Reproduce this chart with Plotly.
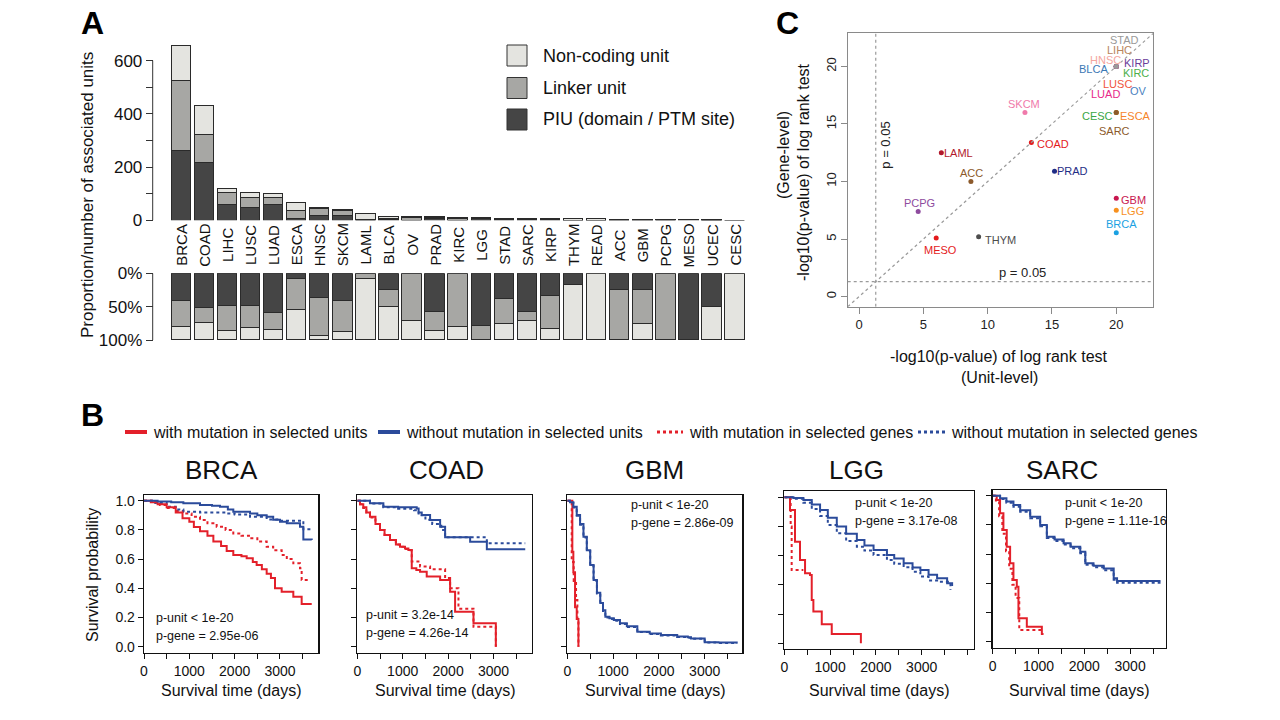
import math
import plotly.graph_objects as go

W, H = 1280, 720
def px(x): return x / W
def py(y): return 1 - y / H

FONT = "Liberation Sans, Arial, Helvetica, sans-serif"

# ---------------- Panel A data ----------------
cancers_a = ["BRCA", "COAD", "LIHC", "LUSC", "LUAD", "ESCA", "HNSC", "SKCM", "LAML", "BLCA", "OV", "PRAD",
             "KIRC", "LGG", "STAD", "SARC", "KIRP", "THYM", "READ", "ACC", "GBM", "PCPG", "MESO", "UCEC", "CESC"]
piu_units = [264, 218, 58, 49, 58, 5, 18, 17, 0, 4, 0, 8, 0, 7, 3, 4, 2, 1, 0, 1, 1, 0, 3, 1, 0]
linker_units = [261, 103, 45, 35, 26, 31, 28, 19, 2, 4, 10, 4, 8, 2, 3, 1, 3, 0, 0, 3, 2, 3, 0, 0, 0]
noncoding_units = [133, 110, 18, 19, 15, 30, 3, 5, 24, 8, 4, 2, 2, 0, 2, 2, 1, 5, 5, 0, 1, 0, 0, 1, 1]
unit_names = ["Non-coding unit", "Linker unit", "PIU (domain / PTM site)"]
count_ticks = [0, 100, 200, 300, 400, 500, 600]
count_labels = ["0", "", "200", "", "400", "", "600"]
prop_ticks = [0, 0.5, 1.0]
prop_labels = ["0%", "50%", "100%"]

# ---------------- Panel C data ----------------
cancers_c = ["LIHC", "HNSC", "KIRP", "BLCA", "KIRC", "LUSC", "OV", "LUAD", "STAD", "CESC", "ESCA", "SARC",
             "SKCM", "COAD", "LAML", "ACC", "PRAD", "PCPG", "GBM", "LGG", "BRCA", "THYM", "MESO"]
unit_level = [20, 20, 20, 20, 20, 20, 20, 20, 20, 20, 20, 20, 12.9, 13.4, 6.4, 8.7, 15.2, 4.6, 20, 20, 20, 9.3, 6.0]
gene_level = [20, 20, 20, 20, 20, 20, 20, 20, 20, 16, 16, 16, 16, 13.4, 12.5, 10, 10.9, 7.4, 8.55, 7.5, 5.55, 5.2, 5.1]
colors_c = ["#b8855c", "#f4a6a0", "#6a3d9a", "#3b78b5", "#4daf4a", "#f0553c", "#4a7fc0", "#e7298a", "#9a9a9a",
            "#3aa645", "#f5842a", "#8b5a2b", "#f07aab", "#e41a1c", "#b2182b", "#8c5a2b", "#1f2d86", "#8e4b9e",
            "#c8174f", "#f7901e", "#1ba1e2", "#4d4d4d", "#e41a1c"]
# label offsets from the dot (pixels, +x right, +y down)
label_dx = [3, -11, 21, -23, 20, 1, 22, -11, 8, -19, 19, -2, -1, 22, 17, 1, 18, 1, 17, 16, 5, 22, 4]
label_dy = [-16, -6, -3, 3, 7, 18, 25, 28, -26, 4, 4, 19, -8, 2, 0, -9, 0, -8, 2, 1, -9, 3, 12]
c_ticks = [0, 5, 10, 15, 20]
p_threshold = 0.05

# ---------------- Panel B data ----------------
surv_cancers = ["BRCA", "COAD", "GBM", "LGG", "SARC"]
p_unit_text = ["p-unit < 1e-20", "p-unit = 3.2e-14", "p-unit < 1e-20", "p-unit < 1e-20", "p-unit < 1e-20"]
p_gene_text = ["p-gene = 2.95e-06", "p-gene = 4.26e-14", "p-gene = 2.86e-09", "p-gene = 3.17e-08", "p-gene = 1.11e-16"]
surv_ticks = [0, 0.2, 0.4, 0.6, 0.8, 1.0]
surv_labels = ["0.0", "0.2", "0.4", "0.6", "0.8", "1.0"]
day_ticks = [0, 500, 1000, 1500, 2000, 2500, 3000, 3500, 4000]
day_labels = ["0", "", "1000", "", "2000", "", "3000", "", ""]

BRCA_unit_mut_t = [0, 150, 300, 500, 700, 850, 1000, 1100, 1235, 1400, 1530, 1700, 1824, 1970, 2150, 2265, 2400, 2485, 2600, 2706, 2800, 2890, 3037, 3150, 3294, 3478, 3700]
BRCA_unit_mut_s = [1.0, 0.99, 0.975, 0.955, 0.92, 0.88, 0.855, 0.82, 0.79, 0.76, 0.72, 0.69, 0.655, 0.628, 0.62, 0.605, 0.58, 0.56, 0.53, 0.50, 0.47, 0.40, 0.377, 0.377, 0.342, 0.292, 0.292]
BRCA_unit_wt_t = [0, 300, 600, 868, 1235, 1500, 1676, 1850, 1970, 2338, 2500, 2706, 2850, 3000, 3150, 3294, 3441, 3515, 3700]
BRCA_unit_wt_s = [1.0, 0.995, 0.99, 0.982, 0.97, 0.965, 0.959, 0.94, 0.925, 0.913, 0.90, 0.89, 0.87, 0.856, 0.845, 0.845, 0.822, 0.735, 0.731]
BRCA_gene_mut_t = [0, 200, 350, 500, 700, 868, 1050, 1235, 1400, 1603, 1800, 1970, 2150, 2338, 2500, 2706, 2850, 3037, 3150, 3294, 3441, 3478, 3662]
BRCA_gene_mut_s = [1.0, 0.99, 0.97, 0.95, 0.93, 0.913, 0.89, 0.868, 0.845, 0.822, 0.80, 0.776, 0.76, 0.742, 0.72, 0.685, 0.66, 0.628, 0.60, 0.571, 0.537, 0.457, 0.452]
BRCA_gene_wt_t = [0, 250, 500, 700, 868, 1235, 1824, 2000, 2338, 2706, 3000, 3441, 3515, 3700]
BRCA_gene_wt_s = [1.0, 0.985, 0.959, 0.94, 0.925, 0.92, 0.913, 0.905, 0.89, 0.872, 0.863, 0.863, 0.804, 0.80]

COAD_unit_mut_t = [0, 60, 132, 200, 279, 400, 500, 600, 720, 850, 941, 1050, 1125, 1199, 1300, 1382, 1529, 1824, 2044, 2154, 2559, 3051, 3051]
COAD_unit_mut_s = [1.0, 0.975, 0.955, 0.92, 0.89, 0.84, 0.80, 0.765, 0.73, 0.70, 0.685, 0.672, 0.662, 0.537, 0.525, 0.514, 0.48, 0.457, 0.377, 0.24, 0.16, 0.16, 0.0]
COAD_unit_wt_t = [0, 279, 574, 900, 1309, 1350, 1419, 1603, 1824, 1934, 2485, 2853, 3699]
COAD_unit_wt_s = [1.0, 0.982, 0.959, 0.955, 0.947, 0.92, 0.902, 0.868, 0.822, 0.749, 0.719, 0.667, 0.667]
COAD_gene_mut_t = [0, 60, 132, 200, 279, 400, 500, 600, 720, 850, 941, 1050, 1125, 1199, 1382, 1603, 1934, 2044, 2228, 2559, 3051, 3051]
COAD_gene_mut_s = [1.0, 0.975, 0.95, 0.92, 0.885, 0.84, 0.80, 0.765, 0.73, 0.70, 0.685, 0.67, 0.66, 0.583, 0.55, 0.53, 0.47, 0.40, 0.26, 0.137, 0.137, 0.0]
COAD_gene_wt_t = [0, 279, 574, 900, 1250, 1350, 1500, 1650, 1850, 1934, 2853, 3699]
COAD_gene_wt_s = [1.0, 0.98, 0.955, 0.945, 0.935, 0.90, 0.87, 0.84, 0.80, 0.749, 0.708, 0.708]

GBM_unit_mut_t = [0, 110, 132, 169, 206, 243, 243]
GBM_unit_mut_s = [1.0, 0.65, 0.51, 0.27, 0.19, 0.19, 0.0]
GBM_unit_wt_t = [0, 59, 132, 206, 279, 353, 426, 500, 574, 647, 720, 780, 831, 920, 1015, 1150, 1300, 1529, 1800, 2044, 2400, 2632, 2700, 3000, 3300, 3699]
GBM_unit_wt_s = [1.0, 0.99, 0.959, 0.902, 0.84, 0.753, 0.66, 0.56, 0.457, 0.37, 0.30, 0.25, 0.205, 0.195, 0.183, 0.16, 0.14, 0.103, 0.09, 0.08, 0.07, 0.065, 0.057, 0.03, 0.028, 0.023]
GBM_gene_mut_t = [0, 96, 140, 191, 220, 243, 243]
GBM_gene_mut_s = [1.0, 0.58, 0.45, 0.32, 0.18, 0.18, 0.0]
GBM_gene_wt_t = [0, 59, 132, 206, 279, 353, 426, 500, 574, 647, 720, 780, 831, 920, 1015, 1150, 1300, 1529, 1800, 2044, 2400, 2632, 2700, 3000, 3300, 3699]
GBM_gene_wt_s = [1.0, 0.985, 0.954, 0.897, 0.835, 0.748, 0.655, 0.555, 0.452, 0.365, 0.295, 0.245, 0.2, 0.19, 0.178, 0.155, 0.135, 0.1, 0.087, 0.077, 0.067, 0.062, 0.054, 0.028, 0.026, 0.02]

LGG_unit_mut_t = [0, 124, 234, 343, 453, 562, 599, 635, 818, 1036, 1672, 1672]
LGG_unit_mut_s = [1.0, 0.913, 0.696, 0.571, 0.479, 0.468, 0.297, 0.217, 0.13, 0.064, 0.064, 0.0]
LGG_unit_wt_t = [0, 200, 416, 600, 781, 950, 1146, 1350, 1584, 1750, 1949, 2241, 2400, 2606, 2800, 2971, 3150, 3336, 3555, 3664]
LGG_unit_wt_s = [1.0, 0.995, 0.982, 0.95, 0.913, 0.86, 0.80, 0.75, 0.708, 0.67, 0.639, 0.605, 0.58, 0.548, 0.52, 0.502, 0.47, 0.445, 0.411, 0.393]
LGG_gene_mut_t = [0, 139, 161, 416]
LGG_gene_mut_s = [1.0, 0.8, 0.502, 0.502]
LGG_gene_wt_t = [0, 200, 416, 600, 781, 950, 1146, 1350, 1584, 1750, 1949, 2241, 2400, 2606, 2800, 2971, 3150, 3336, 3628]
LGG_gene_wt_s = [1.0, 0.99, 0.963, 0.92, 0.872, 0.81, 0.753, 0.70, 0.662, 0.635, 0.605, 0.571, 0.545, 0.521, 0.49, 0.457, 0.43, 0.422, 0.365]

SARC_unit_mut_t = [0, 88, 161, 234, 307, 380, 453, 526, 562, 745, 1073, 1110]
SARC_unit_mut_s = [1.0, 0.97, 0.879, 0.765, 0.65, 0.537, 0.422, 0.377, 0.16, 0.103, 0.053, 0.053]
SARC_unit_wt_t = [0, 161, 300, 453, 600, 818, 1036, 1182, 1350, 1547, 1700, 1912, 2022, 2200, 2423, 2642, 2715, 3664]
SARC_unit_wt_s = [1.0, 0.982, 0.96, 0.936, 0.90, 0.856, 0.80, 0.719, 0.70, 0.674, 0.65, 0.616, 0.537, 0.52, 0.502, 0.434, 0.416, 0.416]
SARC_gene_mut_t = [0, 70, 140, 210, 290, 360, 430, 500, 580, 1073]
SARC_gene_mut_s = [1.0, 0.96, 0.86, 0.74, 0.62, 0.50, 0.39, 0.30, 0.08, 0.08]
SARC_gene_wt_t = [0, 161, 300, 453, 600, 818, 1036, 1182, 1350, 1547, 1700, 1912, 2022, 2200, 2423, 2642, 2715, 3664]
SARC_gene_wt_s = [1.0, 0.978, 0.952, 0.925, 0.89, 0.845, 0.79, 0.71, 0.69, 0.665, 0.64, 0.605, 0.527, 0.51, 0.49, 0.424, 0.404, 0.404]

curves = {
    "BRCA": [(BRCA_gene_mut_t, BRCA_gene_mut_s), (BRCA_gene_wt_t, BRCA_gene_wt_s), (BRCA_unit_mut_t, BRCA_unit_mut_s), (BRCA_unit_wt_t, BRCA_unit_wt_s)],
    "COAD": [(COAD_gene_mut_t, COAD_gene_mut_s), (COAD_gene_wt_t, COAD_gene_wt_s), (COAD_unit_mut_t, COAD_unit_mut_s), (COAD_unit_wt_t, COAD_unit_wt_s)],
    "GBM": [(GBM_gene_mut_t, GBM_gene_mut_s), (GBM_gene_wt_t, GBM_gene_wt_s), (GBM_unit_mut_t, GBM_unit_mut_s), (GBM_unit_wt_t, GBM_unit_wt_s)],
    "LGG": [(LGG_gene_mut_t, LGG_gene_mut_s), (LGG_gene_wt_t, LGG_gene_wt_s), (LGG_unit_mut_t, LGG_unit_mut_s), (LGG_unit_wt_t, LGG_unit_wt_s)],
    "SARC": [(SARC_gene_mut_t, SARC_gene_mut_s), (SARC_gene_wt_t, SARC_gene_wt_s), (SARC_unit_mut_t, SARC_unit_mut_s), (SARC_unit_wt_t, SARC_unit_wt_s)],
}
legend_b = ["with mutation in selected units", "without mutation in selected units",
            "with mutation in selected genes", "without mutation in selected genes"]

RED = "#e3202a"
BLUE = "#2b4b9b"
C_NC, C_LK, C_PIU = "#e4e4e0", "#a7a7a4", "#454545"

# ---------------- figure ----------------
fig = go.Figure()
shapes, annotations = [], []
layout = {}

def note(x, y, text, size, color="#111", angle=0, xanchor="center", yanchor="middle", xref="paper", yref="paper", **kw):
    annotations.append(dict(x=x, y=y, xref=xref, yref=yref, text=text, showarrow=False, textangle=angle,
                            xanchor=xanchor, yanchor=yanchor, font=dict(size=size, color=color, family=FONT), **kw))

# Panel A: counts (top) and proportions (bottom)
pos = list(range(len(cancers_a)))
totals = [a + b + c for a, b, c in zip(piu_units, linker_units, noncoding_units)]
for vals, col in [(piu_units, C_PIU), (linker_units, C_LK), (noncoding_units, C_NC)]:
    fig.add_trace(go.Bar(x=pos, y=vals, width=0.845, marker=dict(color=col, line=dict(color="#2a2a2a", width=1)),
                         xaxis="x", yaxis="y", showlegend=False, hoverinfo="skip"))
for vals, col in [(piu_units, C_PIU), (linker_units, C_LK), (noncoding_units, C_NC)]:
    fig.add_trace(go.Bar(x=pos, y=[v / t for v, t in zip(vals, totals)], width=0.845,
                         marker=dict(color=col, line=dict(color="#2a2a2a", width=1)),
                         xaxis="x2", yaxis="y2", showlegend=False, hoverinfo="skip"))

axA_x = px(152.7)
off = dict(automargin=False)
layout["xaxis"] = dict(domain=[px(157.7), px(757.7)], range=[-1, 25], visible=False, anchor="y", **off)
layout["yaxis"] = dict(domain=[py(220.3), py(42)], range=[0, 670], anchor="free", position=axA_x,
                       tickmode="array", tickvals=count_ticks, ticktext=count_labels, ticks="outside",
                       ticklen=7, tickcolor="#333", showgrid=False, zeroline=False, showline=False,
                       tickfont=dict(size=17, color="#111"), **off)
layout["xaxis2"] = dict(domain=[px(157.7), px(757.7)], range=[-1, 25], visible=False, anchor="y2", **off)
layout["yaxis2"] = dict(domain=[py(340), py(273.3)], range=[1.0, 0], anchor="free", position=axA_x,
                        tickmode="array", tickvals=prop_ticks, ticktext=prop_labels, ticks="outside",
                        ticklen=7, tickcolor="#333", showgrid=False, zeroline=False, showline=False,
                        tickfont=dict(size=17, color="#111"), **off)
shapes.append(dict(type="line", xref="paper", yref="y", x0=axA_x, x1=axA_x, y0=0, y1=600,
                   line=dict(color="#333", width=1)))
shapes.append(dict(type="line", xref="paper", yref="y2", x0=axA_x, x1=axA_x, y0=0, y1=1,
                   line=dict(color="#333", width=1)))
for i, name in enumerate(cancers_a):
    note(i, py(245), name, 15, angle=-90, xref="x")
note(px(88), py(195), "Proportion/number of associated units", 17, angle=-90)
# legend A
for k, (name, col) in enumerate(zip(unit_names, [C_NC, C_LK, C_PIU])):
    yc = [55.5, 88, 119.5][k]
    shapes.append(dict(type="rect", xref="paper", yref="paper", x0=px(507), x1=px(527), y0=py(yc + 10.5), y1=py(yc - 10.5),
                       fillcolor=col, line=dict(color="#333", width=1)))
    note(px(541), py(yc), name, 18, xanchor="left")

# Panel C
fig.add_trace(go.Scatter(x=unit_level, y=gene_level, mode="markers",
                         marker=dict(color=colors_c, size=5), xaxis="x3", yaxis="y3",
                         showlegend=False, hoverinfo="skip"))
for name, xv, yv, col, dx, dy in zip(cancers_c, unit_level, gene_level, colors_c, label_dx, label_dy):
    note(xv, yv, name, 11, color=col, xref="x3", yref="y3", xshift=dx, yshift=-dy)
pth = -math.log10(p_threshold)
layout["xaxis3"] = dict(domain=[px(847.7), px(1153.3)], range=[-0.88, 22.88], anchor="y3", showline=True, mirror=True,
                        linecolor="#8a8a8a", linewidth=1, ticks="outside", ticklen=6, tickcolor="#8a8a8a",
                        tickmode="array", tickvals=c_ticks, showgrid=False, zeroline=False,
                        tickfont=dict(size=13, color="#222"), **off)
layout["yaxis3"] = dict(domain=[py(306.7), py(33.3)], range=[-0.88, 22.88], anchor="x3", showline=True, mirror=True,
                        linecolor="#8a8a8a", linewidth=1, ticks="outside", ticklen=6, tickcolor="#8a8a8a",
                        tickmode="array", tickvals=c_ticks, showgrid=False, zeroline=False, tickangle=-90,
                        tickfont=dict(size=13, color="#222"), **off)
dotc = dict(color="#9a9a9a", width=1.2, dash="dot")
shapes.append(dict(type="line", xref="x3", yref="y3", x0=pth, x1=pth, y0=-0.88, y1=22.88, line=dotc))
shapes.append(dict(type="line", xref="x3", yref="y3", x0=-0.88, x1=22.88, y0=pth, y1=pth, line=dotc))
shapes.append(dict(type="line", xref="x3", yref="y3", x0=-0.88, x1=22.88, y0=-0.88, y1=22.88, line=dotc))
note(px(1022.7), py(272.7), "p = 0.05", 13, color="#222")
note(px(886), py(145.7), "p = 0.05", 13, color="#222", angle=-90)
note(px(999), py(356), "-log10(p-value) of log rank test", 16)
note(px(999), py(377), "(Unit-level)", 16)
note(px(803), py(172), "-log10(p-value) of log rank test", 16, angle=-90)
note(px(783), py(155), "(Gene-level)", 16, angle=-90)

# Panel B
b_left = [144, 357.3, 567.3, 784.3, 992.7]
b_right = [318.3, 531.7, 742.3, 974, 1165.7]
b_xmax = [3845, 3841, 3821, 4142, 3777]
b_zero = [646.7, 646.7, 646.7, 643.3, 641.7]
b_title_x = [221, 446, 654, 856, 1062]
b_ptxt = [(154, 617.7), (364, 615), (629, 505), (853.3, 503.3), (1063.3, 503.3)]
styles = [(RED, "dot"), (BLUE, "dot"), (RED, "solid"), (BLUE, "solid")]
for i, cn in enumerate(surv_cancers):
    k = 4 + i
    xa, ya = f"x{k}", f"y{k}"
    for (t, s), (col, dash) in zip(curves[cn], styles):
        fig.add_trace(go.Scatter(x=t, y=s, mode="lines", line=dict(color=col, width=2, dash=dash, shape="hv"),
                                 xaxis=xa, yaxis=ya, showlegend=False, hoverinfo="skip"))
    y0 = b_zero[i]
    y1 = y0 - 146
    layout[f"xaxis{k}"] = dict(domain=[px(b_left[i]), px(b_right[i])], range=[0, b_xmax[i]], anchor=ya,
                               showline=True, mirror=True, linecolor="#111", linewidth=1.3, ticks="outside",
                               ticklen=5, tickcolor="#111", tickmode="array",
                               tickvals=[d for d in day_ticks if d <= b_xmax[i]],
                               ticktext=[l for d, l in zip(day_ticks, day_labels) if d <= b_xmax[i]],
                               showgrid=False, zeroline=False, tickfont=dict(size=14, color="#111"), **off)
    layout[f"yaxis{k}"] = dict(domain=[py(y0 + 0.04 * 146), py(y1 - 0.04 * 146)], range=[-0.04, 1.04], anchor=xa,
                               showline=True, mirror=True, linecolor="#111", linewidth=1.3, ticks="outside",
                               ticklen=5, tickcolor="#111", tickmode="array", tickvals=surv_ticks,
                               ticktext=surv_labels, showticklabels=(i == 0), showgrid=False, zeroline=False,
                               tickfont=dict(size=14, color="#111"), **off)
    note(px(b_title_x[i]), py(470), cn, 26)
    note(px((b_left[i] + b_right[i]) / 2), py(690), "Survival time (days)", 16)
    tx, ty = b_ptxt[i]
    note(px(tx), py(ty), p_unit_text[i], 12.5, xanchor="left")
    note(px(tx), py(ty + 18), p_gene_text[i], 12.5, xanchor="left")
note(px(92), py(575), "Survival probability", 16, angle=-90)

# legend B
leg_sw = [(125, 147, RED, "solid"), (378, 400, BLUE, "solid"), (657, 683, RED, "dot"), (918, 945, BLUE, "dot")]
for (x0, x1, col, dash), txt in zip(leg_sw, legend_b):
    shapes.append(dict(type="line", xref="paper", yref="paper", x0=px(x0), x1=px(x1), y0=py(432), y1=py(432),
                       line=dict(color=col, width=4 if dash == "solid" else 3, dash=dash)))
    note(px(x1 + 4), py(432), txt, 16, xanchor="left")

# panel letters
for letter, (lx, ly) in zip(["A", "B", "C"], [(92, 23), (92, 415), (787, 23)]):
    note(px(lx), py(ly), f"<b>{letter}</b>", 32, color="#000")

fig.update_layout(template="none", width=W, height=H, autosize=False,
                  margin=dict(l=0, r=0, t=0, b=0, pad=0, autoexpand=False),
                  paper_bgcolor="white", plot_bgcolor="white", barmode="stack", bargap=0,
                  font=dict(family=FONT, color="#111"), showlegend=False,
                  shapes=shapes, annotations=annotations, **layout)
fig.write_html("out.html", config={"displayModeBar": False, "staticPlot": True},
               post_script="document.body.style.margin='0';")
